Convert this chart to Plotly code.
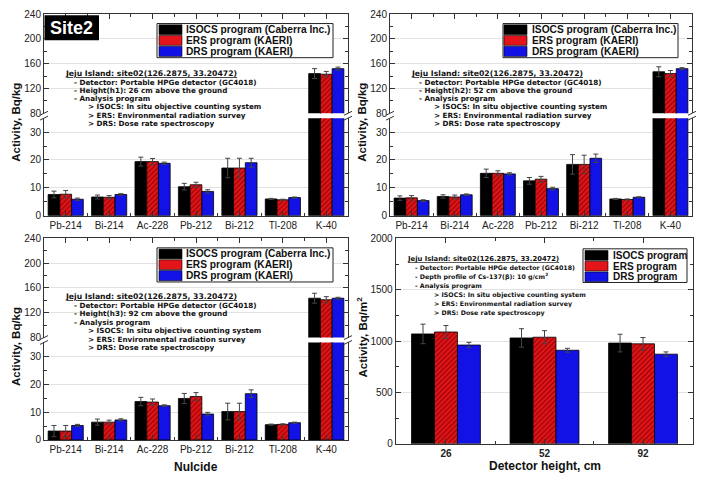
import plotly.graph_objects as go

W, H = 705, 484

# ---------------- data ----------------
nuclides = ["Pb-214", "Bi-214", "Ac-228", "Pb-212", "Bi-212", "Tl-208", "K-40"]
series_names = ["ISOCS program (Caberra Inc.)", "ERS program (KAERI)", "DRS program (KAERI)"]
series_names_cs = ["ISOCS program", "ERS program", "DRS program"]

# h1 = 26 cm
h1_isocs = [7.6, 6.7, 19.4, 10.4, 17.1, 6.0, 144]
h1_isocs_err = [1.2, 0.7, 1.6, 1.2, 3.5, 0.2, 8]
h1_ers = [7.7, 6.6, 19.4, 11.1, 17.1, 5.7, 143]
h1_ers_err = [1.3, 0.6, 1.1, 0.9, 3.5, 0.2, 4.5]
h1_drs = [5.9, 7.6, 18.8, 8.7, 19.0, 6.5, 152]
h1_drs_err = [0.4, 0.3, 0.4, 0.6, 1.6, 0.2, 2.5]

# h2 = 52 cm
h2_isocs = [6.3, 6.9, 15.2, 12.5, 18.4, 6.0, 147]
h2_isocs_err = [0.8, 0.6, 1.5, 1.2, 3.5, 0.2, 8]
h2_ers = [6.4, 6.7, 15.2, 13.1, 18.4, 5.8, 144]
h2_ers_err = [0.8, 0.7, 0.9, 1.0, 3.3, 0.2, 5]
h2_drs = [5.4, 7.5, 15.0, 9.7, 20.6, 6.6, 152]
h2_drs_err = [0.3, 0.3, 0.4, 0.5, 1.5, 0.2, 1.6]

# h3 = 92 cm
h3_isocs = [3.2, 6.4, 13.8, 14.9, 10.2, 5.5, 143.5]
h3_isocs_err = [2.0, 1.1, 1.5, 1.8, 3.0, 0.2, 8]
h3_ers = [3.2, 6.4, 13.6, 15.6, 10.2, 5.6, 141]
h3_ers_err = [2.0, 0.7, 1.1, 1.4, 3.0, 0.2, 5]
h3_drs = [5.2, 7.2, 12.3, 9.3, 16.6, 6.2, 143.5]
h3_drs_err = [0.4, 0.4, 0.3, 0.6, 1.4, 0.2, 1.5]

# Cs-137 vs detector height
heights = ["26", "52", "92"]
cs_isocs = [1070, 1031, 981]
cs_isocs_err = [95, 90, 86]
cs_ers = [1089, 1038, 974]
cs_ers_err = [63, 64, 61]
cs_drs = [962, 911, 873]
cs_drs_err = [26, 19, 22]

height_lines = ["- Height(h1): 26 cm above the ground",
                "- Height(h2): 52 cm above the ground",
                "- Height(h3): 92 cm above the ground"]

# ---------------- style ----------------
FONT = "Liberation Sans, Arial, sans-serif"
INFO_FONT = "DejaVu Sans, Verdana, sans-serif"
TXT = "#111111"
COLORS = ["#000000", "#e3151a", "#1212e6"]
RED_DARK = "#8a0000"
GRID = "#e2e2e2"


def fx(px):
    return px / W


def fy(py):
    return 1 - py / H


fig = go.Figure()
layout = dict(width=W, height=H, margin=dict(l=0, r=0, t=0, b=0),
              paper_bgcolor="white", plot_bgcolor="white",
              showlegend=False, barmode="overlay",
              font=dict(family=FONT, color=TXT, size=10))
annotations = []
shapes = []


def marker_for(k):
    m = dict(color=COLORS[k], line=dict(color="black", width=0.8))
    if k == 1:
        m["pattern"] = dict(shape="/", fgcolor=RED_DARK, bgcolor=COLORS[1],
                            size=3.5, solidity=0.3, fillmode="replace")
    return m


def add_bars(xs, vals, errs, xa, ya, width):
    for k, (v, e) in enumerate(zip(vals, errs)):
        fig.add_trace(go.Bar(
            x=xs, y=v, width=width, offset=-1.5 * width + k * width,
            marker=marker_for(k),
            error_y=dict(type="data", array=e, color="#444444", thickness=1, width=2.5),
            xaxis=xa, yaxis=ya, showlegend=False, name=series_names[k]))


def yaxis_cfg(anchor, dom, rng, dtick, minor_dtick):
    return dict(anchor=anchor, domain=dom, range=rng, dtick=dtick, tick0=0,
                showline=True, linecolor="#333333", linewidth=1, mirror="allticks",
                ticks="inside", ticklen=5, tickcolor="#333333",
                minor=dict(dtick=minor_dtick, tick0=0, ticks="inside", ticklen=3, tickcolor="#333333"),
                showgrid=True, gridcolor=GRID, gridwidth=0.6, zeroline=False,
                tickfont=dict(size=10, family=FONT, color="#222222"))


def xaxis_cfg(anchor, dom, rng, tickvals, ticktext, labels, side="bottom", bold=False, mirror=False):
    return dict(anchor=anchor, domain=dom, range=rng, side=side,
                tickmode="array", tickvals=tickvals,
                ticktext=[("<b>%s</b>" % t) if bold else t for t in ticktext],
                showticklabels=labels,
                showline=True, linecolor="#333333", linewidth=1,
                mirror="allticks" if mirror else False,
                ticks="inside", ticklen=5, tickcolor="#333333",
                minor=dict(dtick=0.5, tick0=0.5, ticks="inside", ticklen=3, tickcolor="#333333"),
                showgrid=False, zeroline=False,
                tickfont=dict(size=10, family=FONT, color="#222222"))


def legend_box(left, right, top, bottom, sw_l, sw_r, rows, text_x, names, fsize):
    shapes.append(dict(type="rect", xref="paper", yref="paper",
                       x0=fx(left), x1=fx(right), y0=fy(bottom), y1=fy(top),
                       line=dict(color="#222222", width=1), fillcolor="white", layer="above"))
    for k, (r0, r1) in enumerate(rows):
        shapes.append(dict(type="rect", xref="paper", yref="paper",
                           x0=fx(sw_l), x1=fx(sw_r), y0=fy(r1), y1=fy(r0),
                           line=dict(color="black", width=0.6), fillcolor=COLORS[k], layer="above"))
        annotations.append(dict(xref="paper", yref="paper", x=fx(text_x), y=fy((r0 + r1) / 2),
                                xanchor="left", yanchor="middle", showarrow=False,
                                text="<b>%s</b>" % names[k],
                                font=dict(size=fsize, family=FONT, color=TXT)))


def esc(ln):
    return "&gt;" + ln[1:] if ln.startswith(">") else ln


def info_block(x_title, x_dash, x_gt, ys, lines, fsize=7.2):
    title = "<b><u>Jeju Island: site02(126.2875, 33.20472)</u></b>"
    annotations.append(dict(xref="paper", yref="paper", x=fx(x_title), y=fy(ys[0]),
                            xanchor="left", yanchor="middle", showarrow=False, text=title,
                            font=dict(size=fsize + 0.5, family=INFO_FONT, color=TXT)))
    for i, ln in enumerate(lines):
        xx = x_gt if ln.startswith(">") else x_dash
        annotations.append(dict(xref="paper", yref="paper", x=fx(xx), y=fy(ys[i + 1]),
                                xanchor="left", yanchor="middle", showarrow=False,
                                text="<b>%s</b>" % esc(ln),
                                font=dict(size=fsize, family=INFO_FONT, color=TXT)))


def break_marks(left, right, y_hi, y_lo):
    for xx in (left, right):
        for yy in (y_hi, y_lo):
            shapes.append(dict(type="line", xref="paper", yref="paper",
                               x0=fx(xx - 4), y0=fy(yy + 2), x1=fx(xx + 4), y1=fy(yy - 2),
                               line=dict(color="#333333", width=1)))


def ytitle(px, py, text):
    annotations.append(dict(xref="paper", yref="paper", x=fx(px), y=fy(py),
                            xanchor="center", yanchor="middle", showarrow=False,
                            textangle=-90, text="<b>%s</b>" % text,
                            font=dict(size=11.5, family=FONT, color=TXT)))


# ---------------- nuclide panels ----------------
xs = list(range(len(nuclides)))
panels = [
    dict(left=44, right=348, top=8.3, bottom=215, hi=110, lo=115,
         data=(h1_isocs, h1_ers, h1_drs), errs=(h1_isocs_err, h1_ers_err, h1_drs_err),
         leg=(157, 333, 18, 53, 159, 182, 184), rows=[(19.3, 29.3), (30.3, 40.3), (41.3, 51.7)],
         info=(63, 72, 86), iy=[69, 78, 86.5, 95, 103.5, 112, 120.5], hl=height_lines[0],
         ytx=16),
    dict(left=390, right=692, top=8.3, bottom=215, hi=110, lo=115,
         data=(h2_isocs, h2_ers, h2_drs), errs=(h2_isocs_err, h2_ers_err, h2_drs_err),
         leg=(503, 678, 18, 53, 504, 527, 530), rows=[(19.3, 29.3), (30.3, 40.3), (41.3, 51.7)],
         info=(409, 417, 432), iy=[69, 78, 86.5, 95, 103.5, 112, 120.5], hl=height_lines[1],
         ytx=362),
    dict(left=44, right=348, top=238.3, bottom=445, hi=340, lo=345,
         data=(h3_isocs, h3_ers, h3_drs), errs=(h3_isocs_err, h3_ers_err, h3_drs_err),
         leg=(157, 333, 248, 283, 159, 182, 184), rows=[(249.3, 259.3), (260.3, 270.3), (271.3, 281.7)],
         info=(63, 72, 86), iy=[298, 307, 315.7, 324.5, 333, 341.7, 350.2], hl=height_lines[2],
         ytx=16),
]

for i, p in enumerate(panels):
    lo_id, up_id = 2 * i + 1, 2 * i + 2
    xl = "x" if lo_id == 1 else "x%d" % lo_id
    yl = "y" if lo_id == 1 else "y%d" % lo_id
    xu, yu = "x%d" % up_id, "y%d" % up_id
    xdom = [fx(p["left"]), fx(p["right"])]
    rng = [-0.5, len(nuclides) - 0.5]
    add_bars(xs, p["data"], p["errs"], xl, yl, 0.27)
    add_bars(xs, p["data"], p["errs"], xu, yu, 0.27)
    layout["xaxis" if lo_id == 1 else "xaxis%d" % lo_id] = xaxis_cfg(yl, xdom, rng, xs, nuclides, True)
    layout["xaxis%d" % up_id] = xaxis_cfg(yu, xdom, rng, xs, nuclides, False, side="top")
    layout["yaxis" if lo_id == 1 else "yaxis%d" % lo_id] = yaxis_cfg(
        xl, [fy(p["bottom"]), fy(p["lo"])], [0, 35], 10, 5)
    layout["yaxis%d" % up_id] = yaxis_cfg(
        xu, [fy(p["hi"]), fy(p["top"])], [80, 240], 40, 20)
    break_marks(p["left"], p["right"], p["hi"], p["lo"])
    L = p["leg"]
    legend_box(L[0], L[1], L[2], L[3], L[4], L[5], p["rows"], L[6], series_names, 10.2)
    info_block(p["info"][0], p["info"][1], p["info"][2], p["iy"],
               ["- Detector: Portable HPGe detector (GC4018)", p["hl"], "- Analysis program",
                "> ISOCS: In situ objective counting system",
                "> ERS: Environmental radiation survey",
                "> DRS: Dose rate spectroscopy"])
    ytitle(p["ytx"], (p["top"] + p["bottom"]) / 2 + 8, "Activity, Bq/kg")

# ---------------- Cs-137 panel ----------------
xh = list(range(len(heights)))
add_bars(xh, (cs_isocs, cs_ers, cs_drs), (cs_isocs_err, cs_ers_err, cs_drs_err), "x7", "y7", 0.233)
layout["xaxis7"] = xaxis_cfg("y7", [fx(395.7), fx(693.3)], [-0.51, 2.51], xh, heights, True,
                             bold=True, mirror=True)
layout["yaxis7"] = yaxis_cfg("x7", [fy(449), fy(238.3)], [0, 2000], 500, 250)
legend_box(583, 687, 249, 283.5, 585, 608,
           [(250.7, 260.7), (261.7, 271.7), (272.7, 282.7)], 611, series_names_cs, 10)
info_block(405, 413, 432, [259.3, 268.5, 277.7, 287.2, 296.5, 305.6, 314.4],
           ["- Detector: Portable HPGe detector (GC4018)",
            "- Depth profile of Cs-137(β): 10 g/cm<sup>2</sup>",
            "- Analysis program",
            "> ISOCS: In situ objective counting system",
            "> ERS: Environmental radiation survey",
            "> DRS: Dose rate spectroscopy"], fsize=6.3)
ytitle(362, 340, "Activity, Bq/m<sup>2</sup>")

# axis titles
annotations.append(dict(xref="paper", yref="paper", x=fx(196), y=fy(473), xanchor="center",
                        yanchor="middle", showarrow=False, text="<b>Nulcide</b>",
                        font=dict(size=12, family=FONT, color=TXT)))
annotations.append(dict(xref="paper", yref="paper", x=fx(545), y=fy(471.5), xanchor="center",
                        yanchor="middle", showarrow=False, text="<b>Detector height, cm</b>",
                        font=dict(size=12, family=FONT, color=TXT)))

# Site2 label
shapes.append(dict(type="rect", xref="paper", yref="paper", x0=fx(44.5), x1=fx(99), y0=fy(35),
                   y1=fy(9.5), fillcolor="black", line=dict(width=0), layer="above"))
annotations.append(dict(xref="paper", yref="paper", x=fx(71.5), y=fy(22.5), xanchor="center",
                        yanchor="middle", showarrow=False, text="<b>Site2</b>",
                        font=dict(size=18, family=FONT, color="white")))

layout["annotations"] = annotations
layout["shapes"] = shapes
fig.update_layout(**layout)
fig.write_html("out.html")
